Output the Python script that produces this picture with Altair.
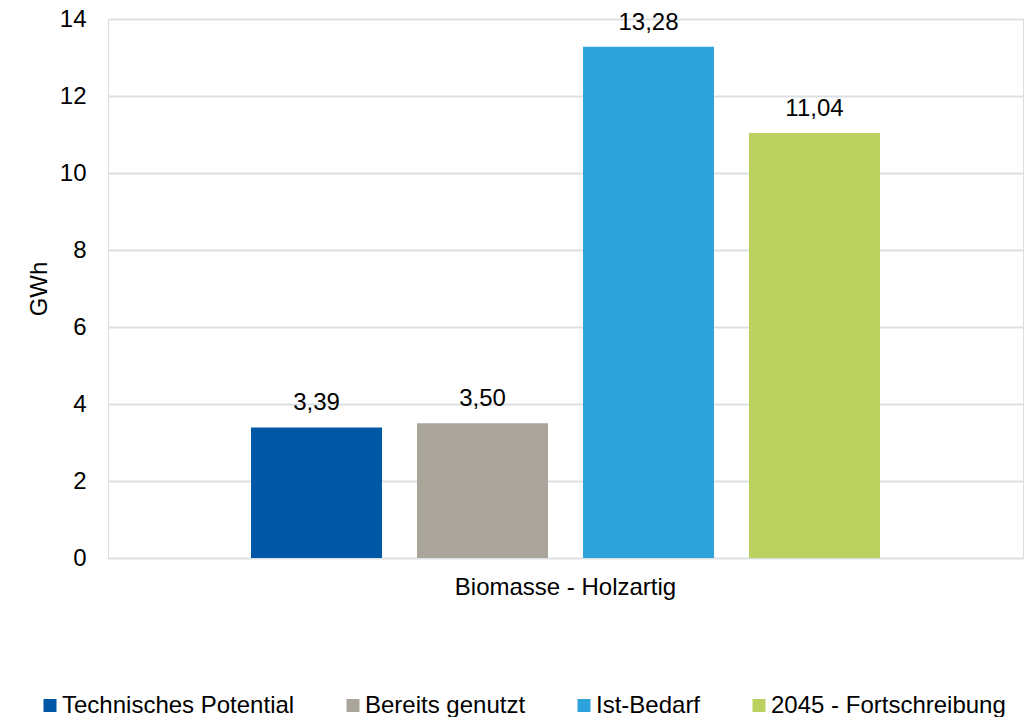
import altair as alt
import pandas as pd

# Chart values
kategorien = ["Biomasse - Holzartig"]
reihen = ["Technisches Potential", "Bereits genutzt", "Ist-Bedarf", "2045 - Fortschreibung"]
werte = [3.39, 3.50, 13.28, 11.04]
farben = ["#0057A6", "#A9A59B", "#2EA3DB", "#BAD15F"]
y_ticks = [0, 2, 4, 6, 8, 10, 12, 14]

df = pd.DataFrame({
    "Kategorie": kategorien * len(reihen),
    "Reihe": reihen,
    "Wert": werte,
})

FONT = "Liberation Sans"
TEXT = "#000000"
GRID = "#DCE0E4"

x_enc = alt.X(
    "Kategorie:N",
    title=None,
    scale=alt.Scale(paddingInner=0, paddingOuter=0.189),
    axis=alt.Axis(labelAngle=0, labelFontSize=24, labelFont=FONT, labelColor=TEXT,
                  labelPadding=17, labelLimit=0, ticks=False, tickSize=0,
                  domain=False, grid=False),
)
xoff_enc = alt.XOffset(
    "Reihe:N", sort=reihen,
    scale=alt.Scale(paddingInner=0.211, paddingOuter=0.1055),
)
y_enc = alt.Y(
    "Wert:Q",
    title="GWh",
    scale=alt.Scale(domain=[0, 14], nice=False),
    axis=alt.Axis(values=y_ticks, labelFontSize=24, labelFont=FONT, labelColor=TEXT,
                  labelPadding=22, ticks=False, tickSize=0, domain=False,
                  grid=True, gridColor=GRID, gridWidth=2,
                  titleFontSize=24, titleFont=FONT, titleColor=TEXT, titleFontWeight="normal",
                  titleAngle=-90, titleX=-62, titleY=269.5, titleAlign="center",
                  titleBaseline="alphabetic"),
)

bars = alt.Chart(df).mark_bar().encode(
    x=x_enc,
    xOffset=xoff_enc,
    y=y_enc,
    color=alt.Color(
        "Reihe:N", sort=reihen,
        scale=alt.Scale(domain=reihen, range=farben),
        legend=alt.Legend(
            title=None, orient="none", direction="horizontal",
            legendX=-70, legendY=674.5,
            symbolType="square", symbolSize=169, symbolStrokeWidth=0,
            labelFontSize=24, labelFont=FONT, labelColor=TEXT, labelLimit=0,
            labelOffset=0, columnPadding=46, padding=0,
        ),
    ),
)

labels = alt.Chart(df).transform_calculate(
    Beschriftung="replace(format(datum.Wert, '.2f'), '.', ',')"
).mark_text(
    baseline="alphabetic", dy=-17, fontSize=24, font=FONT, color=TEXT,
).encode(
    x=x_enc,
    xOffset=xoff_enc,
    y=alt.Y("Wert:Q"),
    text="Beschriftung:N",
)

chart = alt.layer(bars, labels).properties(
    width=915,
    height=539,
    autosize=alt.AutoSizeParams(type="none"),
    padding={"left": 108, "top": 19, "right": 7, "bottom": 159},
).configure_view(stroke=None).configure(background="white")

chart.save("out.html", embed_options={"renderer": "svg", "actions": False})
